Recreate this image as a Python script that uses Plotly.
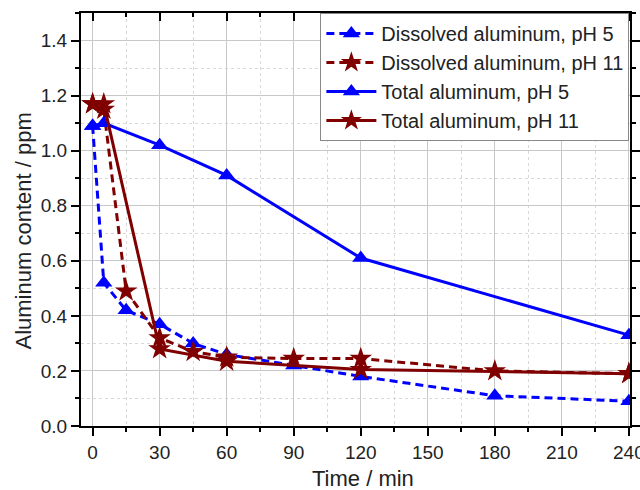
import plotly.graph_objects as go

# Data
t_diss_ph5 = [0, 5, 15, 30, 45, 60, 90, 120, 180, 240]
v_diss_ph5 = [1.09, 0.52, 0.42, 0.37, 0.30, 0.26, 0.22, 0.18, 0.11, 0.09]

t_diss_ph11 = [0, 5, 15, 30, 45, 60, 90, 120, 180, 240]
v_diss_ph11 = [1.17, 1.15, 0.49, 0.32, 0.27, 0.25, 0.245, 0.245, 0.20, 0.19]

t_tot_ph5 = [0, 5, 30, 60, 120, 240]
v_tot_ph5 = [1.09, 1.10, 1.02, 0.91, 0.61, 0.33]

t_tot_ph11 = [0, 5, 30, 60, 120, 240]
v_tot_ph11 = [1.17, 1.17, 0.28, 0.235, 0.205, 0.19]

names = ["Dissolved aluminum, pH 5", "Dissolved aluminum, pH 11",
         "Total aluminum, pH 5", "Total aluminum, pH 11"]
x_title = "Time / min"
y_title = "Aluminum content / ppm"

BLUE = "#0000FF"
RED = "#800000"
FONT = "Liberation Sans, Arial, sans-serif"

fig = go.Figure()
series = [
    (t_diss_ph5, v_diss_ph5, names[0], BLUE, "dash", "triangle-up"),
    (t_diss_ph11, v_diss_ph11, names[1], RED, "dash", "star"),
    (t_tot_ph5, v_tot_ph5, names[2], BLUE, "solid", "triangle-up"),
    (t_tot_ph11, v_tot_ph11, names[3], RED, "solid", "star"),
]
for x, y, n, c, d, m in series:
    fig.add_trace(go.Scatter(
        x=x, y=y, name=n, mode="lines+markers",
        line=dict(color=c, width=3, dash="8px,5px" if d == "dash" else "solid"),
        marker=dict(symbol=m, size=17 if m == "star" else 15, color=c,
                    line=dict(width=0)),
    ))

# dummy trace to activate top axis
fig.add_trace(go.Scatter(x=[None], y=[None], xaxis="x2", showlegend=False,
                         hoverinfo="skip"))

axis_common = dict(
    showline=True, linecolor="black", linewidth=2,
    showgrid=True, gridcolor="#c8c8c8", gridwidth=1,
    zeroline=False, automargin=False, ticklabeloverflow="allow",
    tickfont=dict(family=FONT, size=19, color="#222"),
    ticklen=8, tickwidth=2, tickcolor="black",
)

fig.update_layout(
    width=640, height=490,
    margin=dict(l=81, r=10, t=13, b=64),
    paper_bgcolor="white", plot_bgcolor="white",
    font=dict(family=FONT, color="#222"),
    xaxis=dict(
        range=[-5.2, 240.5], tickmode="linear", tick0=0, dtick=30,
        ticks="outside",
        minor=dict(dtick=15, tick0=0, ticks="outside", ticklen=4, tickwidth=1.5,
                   tickcolor="black", showgrid=True, gridcolor="#d8d8d8",
                   griddash="dot", gridwidth=1),
        **axis_common,
    ),
    xaxis2=dict(
        overlaying="x", side="top", range=[-5.2, 240.5], tickmode="linear",
        tick0=0, dtick=30, ticks="inside", ticklen=8, tickwidth=2,
        tickcolor="black", showticklabels=False, showgrid=False,
        showline=True, linecolor="black", linewidth=2, zeroline=False,
        minor=dict(dtick=15, tick0=0, ticks="inside", ticklen=4, tickwidth=1.5,
                   tickcolor="black"),
    ),
    yaxis=dict(
        range=[0, 1.5], tickmode="linear", tick0=0, dtick=0.2,
        tickformat=".1f", ticks="outside", mirror="ticks",
        minor=dict(dtick=0.1, tick0=0, ticks="outside", ticklen=4, tickwidth=1.5,
                   tickcolor="black", showgrid=True, gridcolor="#d8d8d8",
                   griddash="dot", gridwidth=1),
        **axis_common,
    ),
    legend=dict(
        x=0.436, y=1.0, xanchor="left", yanchor="top",
        bgcolor="white", bordercolor="#888", borderwidth=1,
        font=dict(family=FONT, size=20, color="#222"),
        tracegroupgap=0, itemwidth=50,
    ),
    showlegend=True,
    annotations=[
        dict(text=x_title, xref="paper", yref="paper", x=0.5, y=0,
             xanchor="center", yanchor="middle", xshift=7, yshift=-52,
             showarrow=False, font=dict(family=FONT, size=22, color="#222")),
        dict(text=y_title, xref="paper", yref="paper", x=0, y=0.5,
             xanchor="center", yanchor="middle", xshift=-58, yshift=-12,
             textangle=-90, showarrow=False,
             font=dict(family=FONT, size=22, color="#222")),
    ],
)

fig.write_html("out.html")
